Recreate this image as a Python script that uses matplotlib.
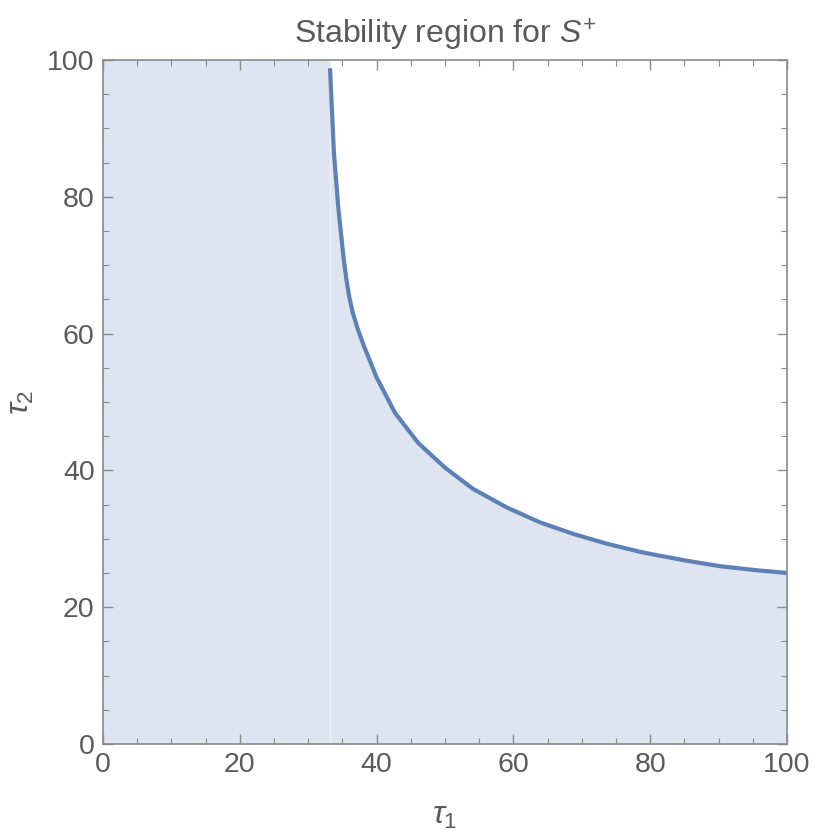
import matplotlib
matplotlib.use("Agg")
import matplotlib.pyplot as plt
from matplotlib.ticker import MultipleLocator

# Boundary curve
tau1 = [33.19, 33.48, 33.77, 34.4, 35.2, 35.6, 36.0, 36.5, 37.2, 38.1, 40.0, 42.7, 46.1,
        50.0, 54.1, 59.0, 63.9, 68.8, 73.6, 78.5, 80.5, 85.3, 90.2, 95.1, 100.0]
tau2 = [98.8, 92.4, 86.3, 78.4, 70.8, 67.8, 65.4, 63.1, 60.8, 58.3, 53.6, 48.4, 44.0,
        40.4, 37.3, 34.6, 32.4, 30.7, 29.3, 28.1, 27.7, 26.8, 26.0, 25.45, 25.0]
asymptote = 33.2

title_text = "Stability region for $S^{+}$"
xlabel_text = r"$\tau_1$"
ylabel_text = r"$\tau_2$"

plt.rcParams['font.family'] = ['Liberation Sans', 'DejaVu Sans']
plt.rcParams['mathtext.fontset'] = 'custom'
plt.rcParams['mathtext.rm'] = 'Liberation Sans'
plt.rcParams['mathtext.it'] = 'Liberation Sans:italic'

fig = plt.figure(figsize=(8.15, 8.36), dpi=100)
ax = fig.add_axes([103/815, 1-744/836, (787-103)/815, (744-60)/836])

line_col = '#5E81B5'
fill_col = '#DEE4F0'
text_col = '#5a5a5a'
frame_col = '#8a8a8a'

ax.fill_between([0, asymptote], [0, 0], [100, 100], color=fill_col, lw=0)
ax.fill_between(tau1, 0, tau2, color=fill_col, lw=0)
ax.axvline(asymptote, color='#eef1f7', lw=1)
ax.plot(tau1, tau2, color=line_col, lw=3, solid_capstyle='butt', solid_joinstyle='round')

ax.set_xlim(0, 100)
ax.set_ylim(0, 100)
ax.xaxis.set_major_locator(MultipleLocator(20))
ax.xaxis.set_minor_locator(MultipleLocator(5))
ax.yaxis.set_major_locator(MultipleLocator(20))
ax.yaxis.set_minor_locator(MultipleLocator(5))
ax.tick_params(which='both', direction='in', top=True, right=True,
               color=frame_col, labelcolor=text_col, labelsize=20.5)
ax.tick_params(which='major', length=7, width=1, pad=6)
ax.tick_params(which='minor', length=4, width=0.8)
for s in ax.spines.values():
    s.set_color(frame_col)
    s.set_linewidth(1.2)

ax.set_title(title_text, fontsize=23, color=text_col, pad=12)
ax.set_xlabel(xlabel_text, fontsize=23, color=text_col, labelpad=16)
ax.set_ylabel(ylabel_text, fontsize=23, color=text_col, labelpad=8)

fig.savefig('out.png', dpi=100)
